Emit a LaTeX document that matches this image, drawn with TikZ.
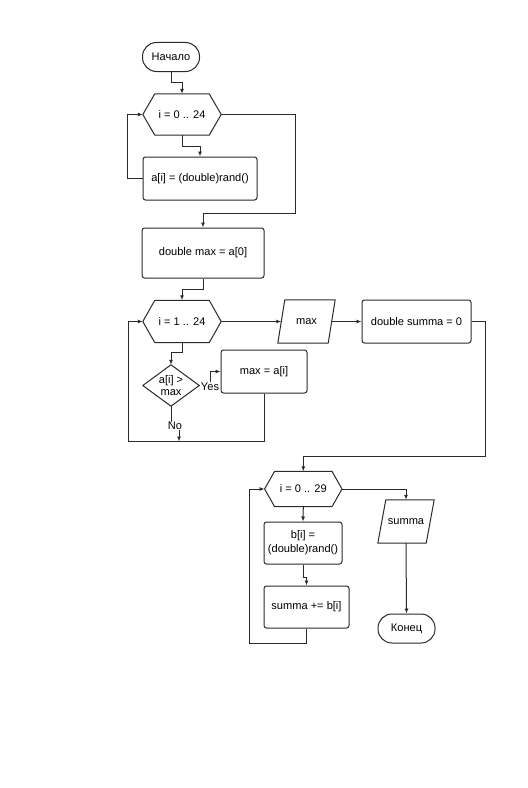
\documentclass[tikz,border=0pt]{standalone}
\usepackage{fontspec}
\setmainfont{Liberation Sans}
\usetikzlibrary{arrows.meta,calc}
\definecolor{ln}{HTML}{2a2a2a}
\tikzset{
  base/.style={inner sep=0pt, font=\fontsize{11.1}{14}\selectfont, align=center, text=black},
  proc/.style={base, draw=ln, line width=1bp, rounded corners=2.5bp},
  term/.style={base, draw=ln, line width=1bp, rounded corners=14bp},
  ghost/.style={base},
  shp/.style={draw=ln, line width=1bp, line join=round},
  arr/.style={draw=ln, line width=1bp, -{Latex[length=5bp,width=4bp]}},
  lnk/.style={draw=ln, line width=1bp},
  lbl/.style={base, fill=white, inner sep=0.6bp}
}
\newcommand{\hexdraw}[2]{%
  \draw[shp] (#1.west) -- ([xshift=#2]#1.north west) -- ([xshift=-#2]#1.north east) -- (#1.east) -- ([xshift=-#2]#1.south east) -- ([xshift=#2]#1.south west) -- cycle;}
\newcommand{\iodraw}[2]{%
  \draw[shp] ([xshift=#2]#1.north west) -- (#1.north east) -- ([xshift=-#2]#1.south east) -- (#1.south west) -- cycle;}
\begin{document}
\begin{tikzpicture}[x=1bp,y=-1bp]
\useasboundingbox (0,0) rectangle (528,788);
\fill[white] (0,0) rectangle (528,788);

\node[term, minimum width=57bp, minimum height=29bp] (start) at (171,57) {Начало};
\node[ghost, minimum width=78bp, minimum height=41bp] (hex1) at (182,114.5) {i = 0 .. 24};
\hexdraw{hex1}{12bp}
\node[proc, minimum width=114bp, minimum height=43bp] (boxa) at (200,178.5) {a[i] = (double)rand()};
\node[proc, minimum width=122bp, minimum height=50bp] (dmax) at (203,253) {double max = a[0]};
\node[ghost, minimum width=78bp, minimum height=42bp] (hex2) at (182,321.5) {i = 1 .. 24};
\hexdraw{hex2}{12bp}
\node[ghost, minimum width=57bp, minimum height=43bp] (maxio) at (306.5,321.5) {max};
\iodraw{maxio}{7bp}
\node[proc, minimum width=109bp, minimum height=43bp] (dsum) at (416.5,321.5) {double summa = 0};
\node[ghost, minimum width=56bp, minimum height=41bp] (dia) at (171,385.5) {a[i] >\\[-1.5bp]max};
\draw[shp] (dia.north) -- (dia.east) -- (dia.south) -- (dia.west) -- cycle;
\node[proc, minimum width=86bp, minimum height=43bp] (maxai) at (264,371.5) {max = a[i]};
\node[ghost, minimum width=77bp, minimum height=35bp] (hex3) at (303.3,489) {i = 0 .. 29};
\hexdraw{hex3}{10bp}
\node[proc, minimum width=78bp, minimum height=42bp] (boxb) at (303,543) {b[i] =\\(double)rand()};
\node[proc, minimum width=85bp, minimum height=42bp] (sumb) at (306.5,607) {summa += b[i]};
\node[ghost, minimum width=56bp, minimum height=43bp] (sumio) at (406,521.5) {summa};
\iodraw{sumio}{8bp}
\node[term, minimum width=57bp, minimum height=29bp] (end) at (406.5,628.5) {Конец};

\coordinate (loopl) at (128,441.5);
\coordinate (loopb) at (179,441.5);

\draw[arr] (start.south) -- ++(0,10) -| (hex1.north);
\draw[arr] (hex1.south) -- ++(0,11) -| (boxa.north);
\draw[arr] (boxa.west) -- ++(-15,0) |- (hex1.west);
\draw[arr] (hex1.east) -- ++(74,0) |- ($(dmax.north)+(0,-14)$) -- (dmax.north);
\draw[arr] (dmax.south) -- ++(0,11) -| (hex2.north);
\draw[arr] (hex2.east) -- ([xshift=3.5bp]maxio.west);
\draw[arr] ([xshift=-3.5bp]maxio.east) -- (dsum.west);
\draw[arr] (dsum.east) -- ++(14,0) |- ($(hex3.north)+(0,-15)$) -- (hex3.north);
\draw[arr] (hex2.south) -- ++(0,10) -| (dia.north);
\draw[arr] (dia.east) -- ++(11.5,0) |- (maxai.west);
\node[lbl] (yes) at (210,386.5) {Yes};
\draw[lnk] (maxai.south) |- (loopl);
\draw[arr] (loopl) |- (hex2.west);
\draw[arr] (dia.south) -- ++(0,22) -| (loopb);
\node[lbl] (no) at (175,426) {No};
\draw[arr] (hex3.south) -- (boxb.north);
\draw[arr] (boxb.south) -- ++(0,12.5) -| (sumb.north);
\draw[arr] (sumb.south) -- ++(0,15) -| ($(hex3.west)+(-15,0)$) -- (hex3.west);
\draw[arr] (hex3.east) -| (sumio.north);
\draw[arr] (sumio.south) -- (end.north);
\end{tikzpicture}
\end{document}
